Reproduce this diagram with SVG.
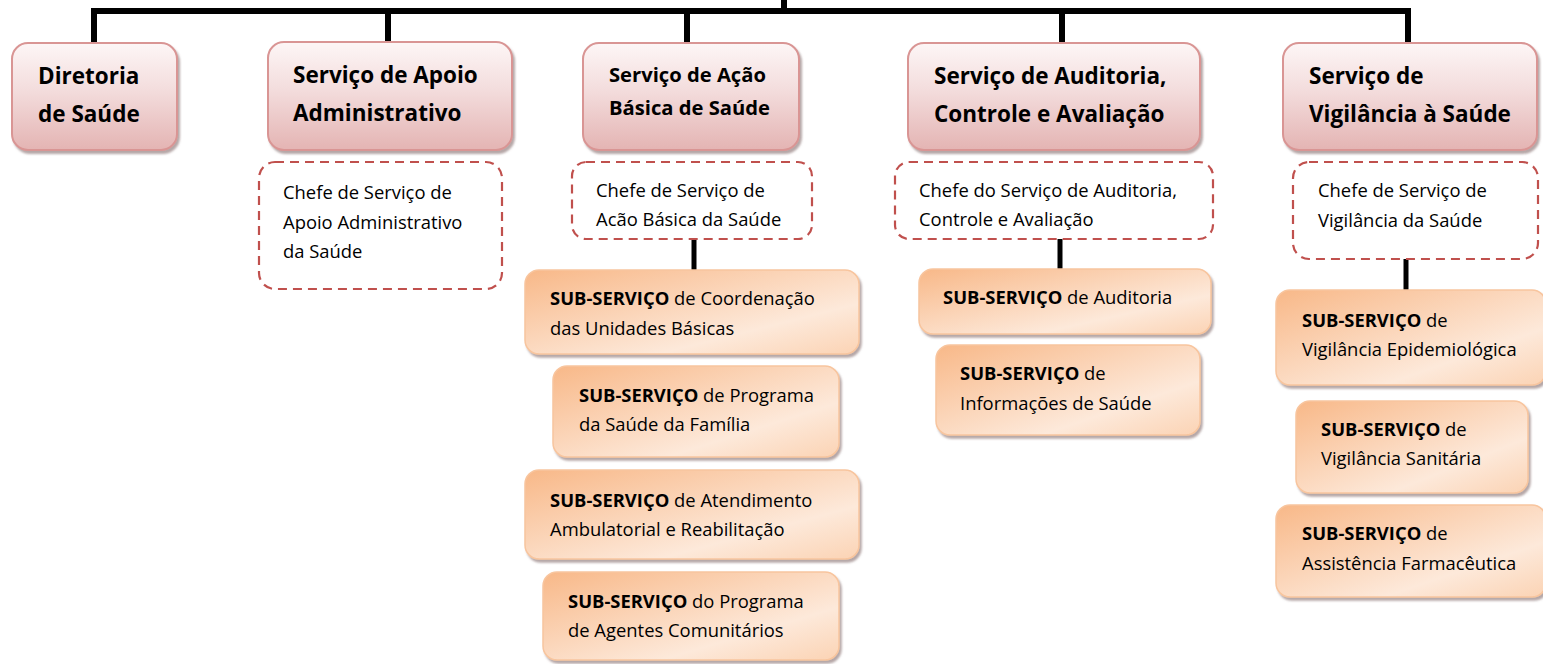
<svg xmlns="http://www.w3.org/2000/svg" width="1543" height="664" viewBox="0 0 1543 664">
<defs>
<linearGradient id="gPink" x1="0" y1="0" x2="0" y2="1">
<stop offset="0" stop-color="#fdf6f6"/>
<stop offset="0.45" stop-color="#f3dcdc"/>
<stop offset="1" stop-color="#e4b4b3"/>
</linearGradient>
<linearGradient id="gOrange" x1="0" y1="0" x2="1" y2="1">
<stop offset="0" stop-color="#f8b888"/>
<stop offset="0.7" stop-color="#fde9da"/>
<stop offset="1" stop-color="#fbd3b4"/>
</linearGradient>
<filter id="sh" x="-5%" y="-5%" width="115%" height="125%">
<feDropShadow dx="2" dy="3" stdDeviation="0.8" flood-color="#7a6060" flood-opacity="0.55"/>
</filter>
</defs>
<style>
.pink{fill:url(#gPink);stroke:#d99594;stroke-width:2;filter:url(#sh)}
.orange{fill:url(#gOrange);stroke:#f8c59e;stroke-width:1.5;filter:url(#sh)}
.dash{fill:none;stroke:#c0504d;stroke-width:2.2;stroke-dasharray:9 6}
.conn line{stroke:#000;stroke-width:6;fill:none}
text{font-family:"Open Sans","Noto Sans","Liberation Sans",sans-serif;fill:#000}
.h{font-weight:bold;font-size:22.5px}
.h2{font-weight:bold;font-size:20.2px}
.t{font-size:18.4px}
.b{font-weight:bold}
</style>
<g id="connectors" class="conn">
<line x1="91" y1="11" x2="1411" y2="11"/>
<line x1="784" y1="0" x2="784" y2="11"/>
<line x1="94" y1="11" x2="94" y2="44"/>
<line x1="388" y1="11" x2="388" y2="43"/>
<line x1="687" y1="11" x2="687" y2="43"/>
<line x1="1062" y1="11" x2="1062" y2="43"/>
<line x1="1408" y1="11" x2="1408" y2="43"/>
<line x1="694" y1="239" x2="694" y2="270" style="stroke-width:5"/>
<line x1="1060" y1="239" x2="1060" y2="269" style="stroke-width:5"/>
<line x1="1406" y1="259" x2="1406" y2="290" style="stroke-width:5"/>
</g>
<g id="diretoria">
<rect class="pink" x="12" y="43" width="165" height="107" rx="16"/>
<text class="h" x="38"><tspan x="38" y="84">Diretoria</tspan><tspan x="38" y="122">de Saúde</tspan></text>
</g>
<g id="apoio">
<rect class="pink" x="268" y="42" width="244" height="108" rx="16"/>
<text class="h"><tspan x="293" y="83">Serviço de Apoio</tspan><tspan x="293" y="121">Administrativo</tspan></text>
</g>
<g id="chefe-apoio">
<rect class="dash" x="259" y="162" width="243" height="127" rx="16"/>
<text class="t"><tspan x="283" y="199">Chefe de Serviço de</tspan><tspan x="283" y="229">Apoio Administrativo</tspan><tspan x="283" y="258">da Saúde</tspan></text>
</g>
<g id="acao">
<rect class="pink" x="583" y="43" width="216" height="107" rx="16"/>
<text class="h2"><tspan x="609" y="82">Serviço de Ação</tspan><tspan x="609" y="115">Básica de Saúde</tspan></text>
</g>
<g id="chefe-acao">
<rect class="dash" x="572" y="162" width="240" height="77" rx="14"/>
<text class="t"><tspan x="596" y="197">Chefe de Serviço de</tspan><tspan x="596" y="226">Acão Básica da Saúde</tspan></text>
</g>
<g id="ss-coordenacao">
<rect class="orange" x="525" y="270" width="334" height="84" rx="14"/>
<text class="t"><tspan x="550" y="305"><tspan class="b">SUB-SERVIÇO</tspan> de Coordenação</tspan><tspan x="550" y="335">das Unidades Básicas</tspan></text>
</g>
<g id="ss-psf">
<rect class="orange" x="553" y="366" width="286" height="91" rx="14"/>
<text class="t"><tspan x="579" y="402"><tspan class="b">SUB-SERVIÇO</tspan> de Programa</tspan><tspan x="579" y="431">da Saúde da Família</tspan></text>
</g>
<g id="ss-ambulatorial">
<rect class="orange" x="525" y="470" width="334" height="89" rx="14"/>
<text class="t"><tspan x="550" y="507"><tspan class="b">SUB-SERVIÇO</tspan> de Atendimento</tspan><tspan x="550" y="536">Ambulatorial e Reabilitação</tspan></text>
</g>
<g id="ss-agentes">
<rect class="orange" x="543" y="572" width="296" height="88" rx="14"/>
<text class="t"><tspan x="568" y="608"><tspan class="b">SUB-SERVIÇO</tspan> do Programa</tspan><tspan x="568" y="637">de Agentes Comunitários</tspan></text>
</g>
<g id="auditoria">
<rect class="pink" x="908" y="43" width="292" height="107" rx="16"/>
<text class="h"><tspan x="934" y="84">Serviço de Auditoria,</tspan><tspan x="934" y="122">Controle e Avaliação</tspan></text>
</g>
<g id="chefe-auditoria">
<rect class="dash" x="895" y="162" width="318" height="77" rx="14"/>
<text class="t"><tspan x="919" y="197">Chefe do Serviço de Auditoria,</tspan><tspan x="919" y="226">Controle e Avaliação</tspan></text>
</g>
<g id="ss-auditoria">
<rect class="orange" x="919" y="269" width="292" height="65" rx="14"/>
<text class="t" x="943" y="304"><tspan class="b">SUB-SERVIÇO</tspan> de Auditoria</text>
</g>
<g id="ss-informacoes">
<rect class="orange" x="936" y="345" width="264" height="90" rx="14"/>
<text class="t"><tspan x="960" y="380"><tspan class="b">SUB-SERVIÇO</tspan> de</tspan><tspan x="960" y="410">Informações de Saúde</tspan></text>
</g>
<g id="vigilancia">
<rect class="pink" x="1283" y="43" width="254" height="107" rx="16"/>
<text class="h"><tspan x="1309" y="84">Serviço de</tspan><tspan x="1309" y="122">Vigilância à Saúde</tspan></text>
</g>
<g id="chefe-vigilancia">
<rect class="dash" x="1293" y="162" width="245" height="97" rx="16"/>
<text class="t"><tspan x="1318" y="197">Chefe de Serviço de</tspan><tspan x="1318" y="227">Vigilância da Saúde</tspan></text>
</g>
<g id="ss-epidemiologica">
<rect class="orange" x="1276" y="290" width="270" height="95" rx="14"/>
<text class="t"><tspan x="1302" y="327"><tspan class="b">SUB-SERVIÇO</tspan> de</tspan><tspan x="1302" y="356">Vigilância Epidemiológica</tspan></text>
</g>
<g id="ss-sanitaria">
<rect class="orange" x="1296" y="401" width="232" height="92" rx="14"/>
<text class="t"><tspan x="1321" y="436"><tspan class="b">SUB-SERVIÇO</tspan> de</tspan><tspan x="1321" y="465">Vigilância Sanitária</tspan></text>
</g>
<g id="ss-farmaceutica">
<rect class="orange" x="1276" y="505" width="270" height="92" rx="14"/>
<text class="t"><tspan x="1302" y="540"><tspan class="b">SUB-SERVIÇO</tspan> de</tspan><tspan x="1302" y="570">Assistência Farmacêutica</tspan></text>
</g>
</svg>
